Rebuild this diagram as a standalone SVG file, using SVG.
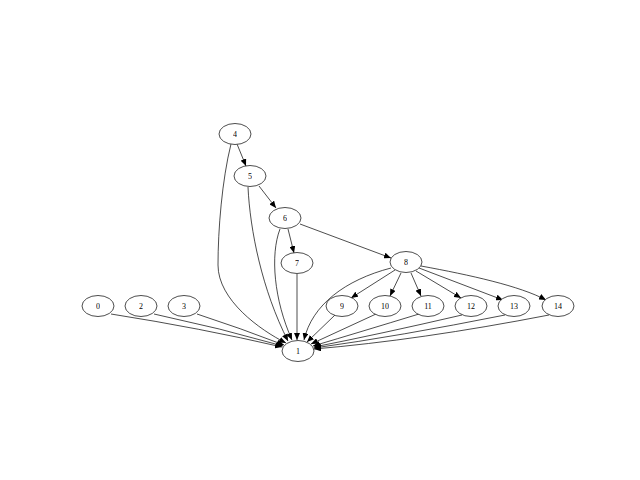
<svg xmlns="http://www.w3.org/2000/svg" width="640" height="480" viewBox="0 0 640 480">
<style>
.n ellipse{fill:#fff;stroke:#000;stroke-width:0.7}
.n text{font-family:"Liberation Serif",serif;font-size:8px;text-anchor:middle;fill:#000;opacity:0.99}
.e path{fill:none;stroke:#000;stroke-width:0.7;marker-end:url(#a)}
</style>
<defs>
<marker id="a" markerUnits="userSpaceOnUse" markerWidth="8" markerHeight="6" refX="7" refY="3" orient="auto">
<path d="M0,0 L7,3 L0,6 Z" fill="#000"/>
</marker>
</defs>
<rect width="640" height="480" fill="#fff"/>
<g class="e" id="edges">
<path d="M237,144 L246,166"/>
<path d="M259,186 L276,208"/>
<path d="M288,229 L294,253"/>
<path d="M300,224 L391,258"/>
<path d="M395,270 L351,298"/>
<path d="M401,273 L390,296"/>
<path d="M411,273 L421,296"/>
<path d="M416,271 L461,298"/>
<path d="M419,268 L503,300"/>
<path d="M421,266 C470,275 520,286 546,300"/>
<path d="M111,314 Q200,328 282,347"/>
<path d="M154,314 Q220,328 283,346"/>
<path d="M197,314 Q240,328 284,345"/>
<path d="M231,144 C222,180 218,230 218,265 C218,300 260,330 286,343"/>
<path d="M248,187 C250,230 262,290 288,341"/>
<path d="M280,229 C270,255 274,300 292,340"/>
<path d="M297,274 L297,340"/>
<path d="M391,268 C345,280 312,305 304,340"/>
<path d="M335,315 L307,342"/>
<path d="M376,314 L311,344"/>
<path d="M419,314 Q360,332 313,346"/>
<path d="M462,315 Q380,334 314,347"/>
<path d="M505,315 Q400,336 314,348"/>
<path d="M549,315 Q420,340 314,349"/>
</g>
<g class="n" id="n4"><ellipse cx="235" cy="134" rx="16" ry="10.5"/><text x="235" y="137">4</text></g>
<g class="n" id="n5"><ellipse cx="250" cy="176" rx="16" ry="10.5"/><text x="250" y="179">5</text></g>
<g class="n" id="n6"><ellipse cx="285" cy="218" rx="16" ry="10.5"/><text x="285" y="221">6</text></g>
<g class="n" id="n7"><ellipse cx="297" cy="263" rx="16" ry="10.5"/><text x="297" y="266">7</text></g>
<g class="n" id="n8"><ellipse cx="406" cy="262" rx="16" ry="10.5"/><text x="406" y="265">8</text></g>
<g class="n" id="n0"><ellipse cx="98" cy="306" rx="16" ry="10.5"/><text x="98" y="309">0</text></g>
<g class="n" id="n2"><ellipse cx="141" cy="306" rx="16" ry="10.5"/><text x="141" y="309">2</text></g>
<g class="n" id="n3"><ellipse cx="184" cy="306" rx="16" ry="10.5"/><text x="184" y="309">3</text></g>
<g class="n" id="n9"><ellipse cx="342" cy="306" rx="16" ry="10.5"/><text x="342" y="309">9</text></g>
<g class="n" id="n10"><ellipse cx="385" cy="306" rx="16" ry="10.5"/><text x="385" y="309">10</text></g>
<g class="n" id="n11"><ellipse cx="428" cy="306" rx="16" ry="10.5"/><text x="428" y="309">11</text></g>
<g class="n" id="n12"><ellipse cx="471" cy="306" rx="16" ry="10.5"/><text x="471" y="309">12</text></g>
<g class="n" id="n13"><ellipse cx="514" cy="306" rx="16" ry="10.5"/><text x="514" y="309">13</text></g>
<g class="n" id="n14"><ellipse cx="558" cy="306" rx="16" ry="10.5"/><text x="558" y="309">14</text></g>
<g class="n" id="n1"><ellipse cx="298" cy="351" rx="16" ry="10.5"/><text x="298" y="354">1</text></g>
</svg>
